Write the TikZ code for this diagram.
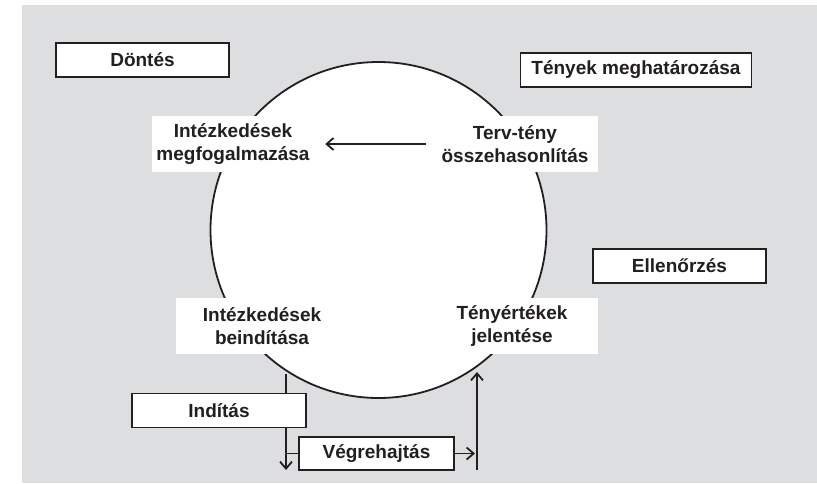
\documentclass[tikz,border=0pt]{standalone}
\usepackage{fontspec}
\setmainfont{Liberation Sans}
\usepackage{tikz}
\usetikzlibrary{arrows.meta,calc,positioning}
\definecolor{hatter}{RGB}{221,222,224}
\definecolor{betu}{RGB}{35,31,32}
\tikzset{
	szoveg/.style={font=\fontsize{19}{22.5}\selectfont\bfseries, text=betu, align=center},
	keret/.style={szoveg, draw=betu, fill=white, line width=1.8pt, minimum height=34pt, inner sep=0pt},
	cimke/.style={szoveg, fill=white, inner sep=0pt, minimum height=56pt},
	nyil/.style={draw=betu, line width=1.8pt, -{Straight Barb[length=7pt,width=12pt,line width=1.8pt]}},
	vonal/.style={draw=betu, line width=1.8pt}
}
\begin{document}
\begin{tikzpicture}[x=1pt, y=-1pt]
	 		\useasboundingbox (0,0) rectangle (817,483);
	 		\fill[hatter] (22,5) rectangle (817,483);
	 		\node[circle, draw=betu, fill=white, line width=1.8pt, minimum size=336pt, inner sep=0pt] (kor) at (378.5,230) {};
	 		\node[cimke, minimum width=162pt] (megfog) at (233,144) {Intézkedések\\megfogalmazása};
	 		\node[cimke, minimum width=166pt] (terv) at (515,144) {Terv-tény\\összehasonlítás};
	 		\node[cimke, minimum width=172pt] (beind) at (262,326) {Intézkedések\\beindítása};
	 		\node[cimke, minimum width=172pt] (tenyert) at (512,326) {Tényértékek\\jelentése};
	 		\node[keret, minimum width=173pt] (dontes) at (142.5,60) {Döntés};
	 		\node[keret, minimum width=231pt] (tenyek) at (636,70) {Tények meghatározása};
	 		\node[keret, minimum width=173pt] (ellenorzes) at (679.5,266) {Ellenőrzés};
	 		\node[keret, minimum width=174pt] (inditas) at (219,410.5) {Indítás};
	 		\node[keret, minimum width=155pt, minimum height=33pt] (vegrehajtas) at (376.5,453.5) {Végrehajtás};
	 		\coordinate (ki) at (286,374);
	 		\coordinate (le) at (286,470);
	 		\coordinate (felalj) at (477,470);
	 		\coordinate (felcsucs) at (477,372);
	 		\draw[nyil, shorten <=6pt, shorten >=11pt] (terv) -- (megfog);
	 		\draw[vonal] (ki) -- (ki |- inditas.north);
	 		\draw[nyil] (ki |- inditas.south) -- (le);
	 		\draw[vonal] (vegrehajtas.west) -- (vegrehajtas.west -| ki);
	 		\draw[nyil, shorten >=2pt] (vegrehajtas.east) -- (vegrehajtas.east -| felalj);
	 		\draw[nyil] (felalj) -- (felcsucs);
	 	\end{tikzpicture}
\end{document}
